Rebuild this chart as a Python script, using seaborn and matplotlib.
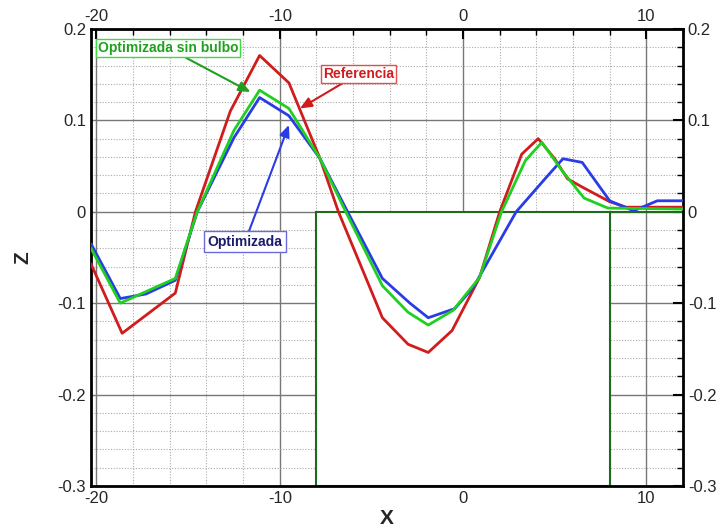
import numpy as np
import pandas as pd
import seaborn as sns
import matplotlib.pyplot as plt
from matplotlib.ticker import MultipleLocator
from matplotlib.patches import Rectangle

sns.set_style('white')
plt.rcParams['font.family'] = ['Liberation Sans', 'DejaVu Sans']
plt.rcParams['axes.unicode_minus'] = False

# Referencia
x_ref = [-20.3, -18.6, -15.7, -14.6, -12.7, -11.1, -9.5, -7.8, -6.8, -4.4, -3.0,
         -1.9, -0.6, 0.9, 2.0, 3.2, 4.1, 5.0, 5.7, 6.5, 8.0, 8.9, 10.5, 12.0]
z_ref = [-0.057, -0.133, -0.089, 0.0, 0.11, 0.171, 0.141, 0.058, 0.0, -0.116, -0.145,
         -0.154, -0.13, -0.072, 0.0, 0.063, 0.080, 0.058, 0.036, 0.027, 0.011, 0.005, 0.005, 0.005]

# Optimizada sin bulbo
x_sb = [-20.3, -18.7, -15.7, -14.5, -12.5, -11.1, -9.5, -7.8, -6.4, -4.4, -3.0,
        -1.9, -0.55, 0.9, 2.1, 3.4, 4.3, 5.4, 6.6, 7.9, 12.0]
z_sb = [-0.04, -0.10, -0.073, 0.0, 0.089, 0.133, 0.113, 0.058, 0.0, -0.081, -0.11,
        -0.124, -0.108, -0.072, 0.0, 0.056, 0.076, 0.045, 0.015, 0.004, 0.003]

# Optimizada
x_opt = [-20.3, -18.7, -17.3, -15.7, -14.5, -12.5, -11.1, -9.5, -7.8, -6.3, -4.4, -2.9,
         -1.9, -0.45, 0.55, 2.9, 4.6, 5.45, 6.5, 8.0, 9.3, 10.6, 12.0]
z_opt = [-0.035, -0.095, -0.09, -0.075, 0.0, 0.081, 0.125, 0.105, 0.058, 0.0, -0.073, -0.10,
         -0.116, -0.106, -0.083, 0.0, 0.039, 0.058, 0.054, 0.012, 0.001, 0.012, 0.012]

red = '#d01c1c'
green = '#1fd01f'
blue = '#2a3ce6'
dkgreen = '#1d6b1d'

fig = plt.figure(figsize=(7.22, 5.27), dpi=100)
ax = fig.add_axes([0.126, 0.078, 0.82, 0.867])

# casco (caja blanca)
ax.add_patch(Rectangle((-8, -0.3), 16, 0.3, facecolor='white', edgecolor=dkgreen,
                       lw=1.5, zorder=2))
ax.plot([8, 12], [0, 0], color=dkgreen, lw=1.5, zorder=2)

for xs, zs, c in [(x_ref, z_ref, red), (x_opt, z_opt, blue), (x_sb, z_sb, green)]:
    df = pd.DataFrame({'x': xs, 'z': zs})
    sns.lineplot(data=df, x='x', y='z', sort=False, color=c, lw=2, ax=ax, zorder=3)

ax.set_xlim(-20.3, 12)
ax.set_ylim(-0.3, 0.2)
ax.xaxis.set_major_locator(MultipleLocator(10))
ax.xaxis.set_minor_locator(MultipleLocator(2))
ax.yaxis.set_major_locator(MultipleLocator(0.1))
ax.yaxis.set_minor_locator(MultipleLocator(0.02))
ax.grid(True, which='major', color='#777777', lw=1, zorder=0)
ax.grid(True, which='minor', color='#aaaaaa', lw=0.8, ls=(0, (1, 1.5)), zorder=0)
ax.set_axisbelow(True)

ax.tick_params(which='both', direction='in', top=True, right=True,
               labeltop=True, labelright=True, labelsize=12, color='black')
ax.tick_params(which='major', length=7, width=1.5)
ax.tick_params(which='minor', length=4, width=1)
ax.yaxis.set_major_formatter(plt.FuncFormatter(lambda v, p: '0' if abs(v) < 1e-9 else f'{v:g}'))
for s in ax.spines.values():
    s.set_linewidth(2)
    s.set_color('black')

ax.set_xlabel('X', fontsize=15, fontweight='bold', labelpad=2)
ax.set_ylabel('Z', fontsize=15, fontweight='bold', labelpad=18)

# etiquetas con flechas
arrow = dict(arrowstyle='-|>,head_length=0.7,head_width=0.3', lw=1.5, shrinkA=0, shrinkB=0)
ax.annotate('Optimizada sin bulbo', xy=(-11.6, 0.131), xytext=(-16.1, 0.179),
            color='#1fa01f', fontsize=10, fontweight='bold', ha='center', va='center',
            bbox=dict(boxstyle='square,pad=0.15', fc='white', ec='#3fdc3f', lw=1),
            arrowprops=dict(arrow, color='#1fa01f'), zorder=5)
ax.annotate('Referencia', xy=(-8.9, 0.113), xytext=(-5.7, 0.151),
            color=red, fontsize=10, fontweight='bold', ha='center', va='center',
            bbox=dict(boxstyle='square,pad=0.15', fc='white', ec='#e05050', lw=1),
            arrowprops=dict(arrow, color=red), zorder=5)
ax.annotate('Optimizada', xy=(-9.5, 0.095), xytext=(-11.9, -0.033),
            color='#1a1a6e', fontsize=10, fontweight='bold', ha='center', va='center',
            bbox=dict(boxstyle='square,pad=0.25', fc='white', ec='#6a6ae0', lw=1),
            arrowprops=dict(arrow, color=blue), zorder=5)

fig.savefig('out.png', dpi=100)
